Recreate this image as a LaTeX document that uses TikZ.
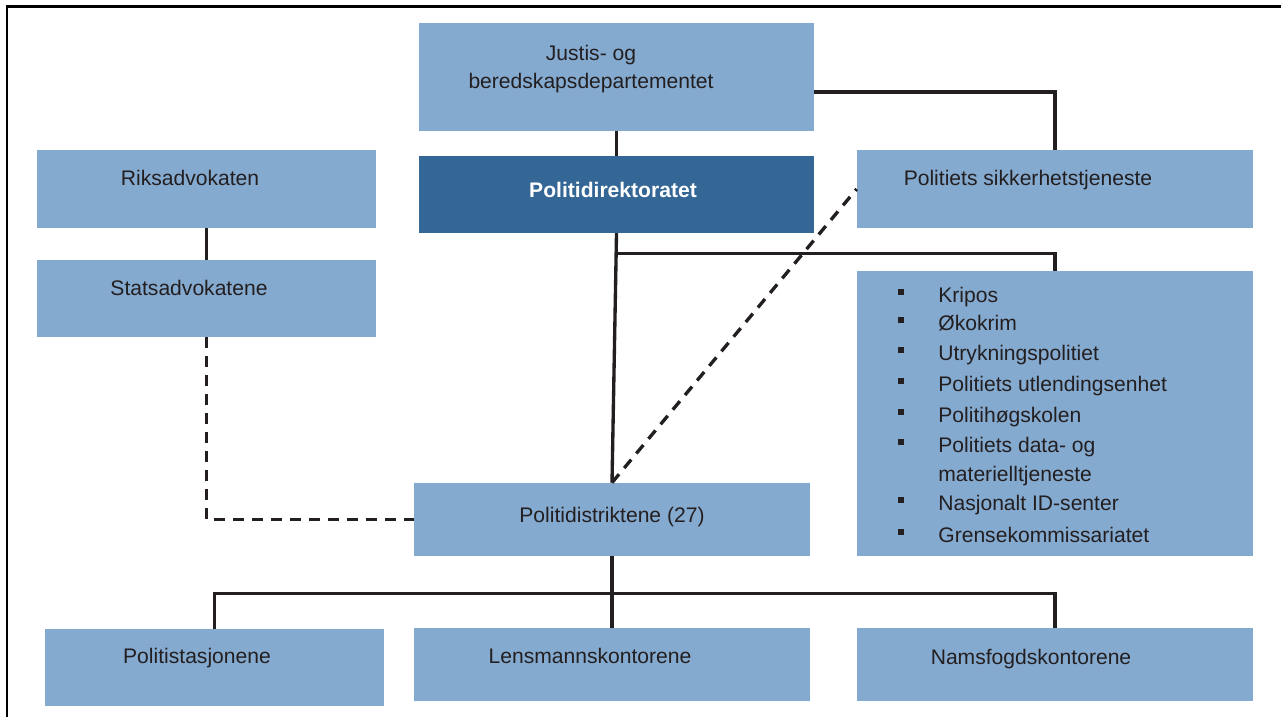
\documentclass[tikz,border=0pt]{standalone}
\usepackage{fontspec}
\setmainfont{Liberation Sans}
\usetikzlibrary{positioning}
\definecolor{boxblue}{HTML}{85AAD0}
\definecolor{dirblue}{HTML}{346696}
\definecolor{ink}{HTML}{231F20}

\begin{document}
\begin{tikzpicture}[
    x=0.2mm, y=-0.2mm,
    font=\fontsize{12}{16}\selectfont,
    box/.style={fill=boxblue, inner sep=0pt, minimum width=79.2mm, minimum height=15.4mm},
    dirbox/.style={fill=dirblue, inner sep=0pt, minimum width=79mm, minimum height=15.4mm},
    lbl/.style={anchor=base, text=ink, inner sep=0pt},
    conn/.style={draw=ink, line width=1.9pt},
    dconn/.style={conn, dash pattern=on 2.2mm off 1.6mm},
    bul/.style={fill=ink, inner sep=0pt, minimum size=1.3mm},
    frame/.style={draw=black, line width=1.5pt}
  ]
    \useasboundingbox (0,0) rectangle (1281,717);
    \draw[frame] (7,717) -- (7,6.5) -- (1281,6.5);

    % boxes
    \node[box, minimum width=79mm, minimum height=21.6mm] (jbd) at (616.5,77) {};
    \node[dirbox] (pd)    at (616.5,194.5) {};
    \node[box, minimum width=67.8mm, minimum height=15.6mm] (riks) at (206.5,189) {};
    \node[box, minimum width=67.8mm] (stats) at (206.5,298.5) {};
    \node[box, minimum height=15.6mm] (pst) at (1055,189) {};
    \node[box, minimum height=57mm] (list) at (1055,413.5) {};
    \node[box, minimum height=14.6mm] (pdist) at (612,519.5) {};
    \node[box, minimum width=67.8mm] (stas) at (214.5,667.5) {};
    \node[box, minimum height=14.6mm] (lens) at (612,664.5) {};
    \node[box, minimum height=14.6mm] (nams) at (1055,664.5) {};

    % texts
    \node[text=ink, inner sep=0pt, align=center] (jbd-t) at (591,69) {Justis- og\\beredskapsdepartementet};
    \node[lbl, text=white, font=\fontsize{12}{16}\selectfont\bfseries] (pd-t) at (613,197) {Politidirektoratet};
    \node[lbl] (riks-t)  at (190,185) {Riksadvokaten};
    \node[lbl] (stats-t) at (189,295) {Statsadvokatene};
    \node[lbl] (pst-t)   at (1028,185) {Politiets sikkerhetstjeneste};
    \node[lbl] (pdist-t) at (612,522) {Politidistriktene (27)};
    \node[lbl] (stas-t)  at (197,663) {Politistasjonene};
    \node[lbl] (lens-t)  at (590,663) {Lensmannskontorene};
    \node[lbl] (nams-t)  at (1031,664) {Namsfogdskontorene};

    % list of special units
    \foreach \txt/\yb [count=\i] in {Kripos/302, Økokrim/330, Utrykningspolitiet/360,
        Politiets utlendingsenhet/391, Politihøgskolen/422, Politiets data- og/452,
        Nasjonalt ID-senter/510, Grensekommissariatet/542} {
      \node[bul] (bul\i) at (901,\yb-10) {};
      \node[lbl, anchor=base west] (item\i) at (938,\yb) {\txt};
    }
    \node[lbl, anchor=base west] (item6b) at (938,481) {materielltjeneste};

    % connectors
    \draw[conn] (jbd) -- (pd);
    \draw[conn] ([yshift=-3mm]jbd.east) -| (pst.north);
    \draw[conn] (pd.south) -- ++(0,20) -| (list.north);
    \draw[conn] (pd.south) -- (pdist.north);
    \draw[dconn] (pdist.north) -- (pst.west);
    \draw[conn] (riks) -- (stats);
    \draw[dconn] (stats.south) |- (pdist.west);
    \draw[conn] (pdist.south) -- (lens.north);
    \coordinate (fork) at ([yshift=-7.4mm]pdist.south);
    \draw[conn] (fork) -| (stas.north);
    \draw[conn] (fork) -| (nams.north);
  \end{tikzpicture}
\end{document}
